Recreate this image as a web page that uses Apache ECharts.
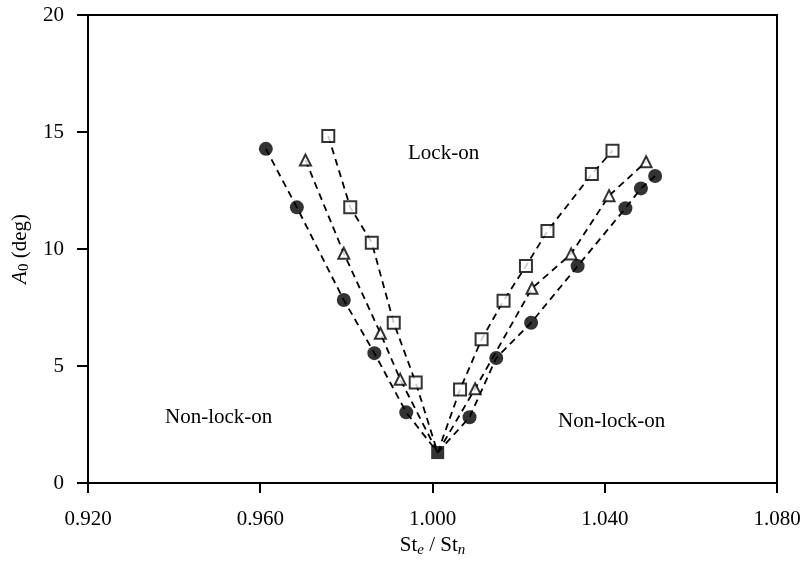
<!DOCTYPE html>
<html>
<head>
<meta charset="utf-8">
<title>Lock-on boundary</title>
<script src="https://cdn.jsdelivr.net/npm/echarts@6/dist/echarts.min.js"></script>
<style>
  html, body { margin: 0; padding: 0; background: #fff; }
  #chart { width: 807px; height: 565px; }
</style>
</head>
<body>
<div id="chart"></div>
<script>
// Axis ticks
const xTicks = [0.920, 0.960, 1.000, 1.040, 1.080];
const yTicks = [0, 5, 10, 15, 20];

// Common vertex where both boundaries meet
const vertex = [1.0012, 1.30];

// Filled circles: lower and upper boundary branches (St_e/St_n, A0 in deg)
const circleLeft = [[0.9613, 14.28], [0.9685, 11.78], [0.9794, 7.82], [0.9865, 5.55], [0.9939, 3.02]];
const circleRight = [[1.0086, 2.81], [1.0148, 5.34], [1.0229, 6.85], [1.0337, 9.27], [1.0448, 11.74], [1.0484, 12.59], [1.0517, 13.12]];

// Open triangles
const triLeft = [[0.9705, 13.80], [0.9794, 9.82], [0.9879, 6.40], [0.9925, 4.43]];
const triRight = [[1.0099, 4.03], [1.0231, 8.32], [1.0322, 9.79], [1.0410, 12.28], [1.0496, 13.73]];

// Open squares
const sqLeft = [[0.9758, 14.83], [0.9809, 11.78], [0.9859, 10.27], [0.9910, 6.85], [0.9961, 4.29]];
const sqRight = [[1.0064, 4.00], [1.0114, 6.14], [1.0165, 7.79], [1.0217, 9.27], [1.0267, 10.77], [1.0370, 13.20], [1.0418, 14.20]];

// Region labels
const regionLabels = ['Lock-on', 'Non-lock-on', 'Non-lock-on'];

const FONT = '"Liberation Serif", "Times New Roman", serif';

function dashed(points) {
  return {
    type: 'line',
    data: points,
    symbol: 'none',
    silent: true,
    z: 1,
    lineStyle: { color: '#000', width: 1.8, type: [7, 5] }
  };
}

function markers(points, symbol, size, filled) {
  return {
    type: 'scatter',
    data: points,
    symbol: symbol,
    symbolSize: size,
    z: 3,
    itemStyle: filled
      ? { color: '#000', borderColor: '#000', borderWidth: 0 }
      : { color: '#fff', borderColor: '#000', borderWidth: 2 }
  };
}

const chart = echarts.init(document.getElementById('chart'), null, { renderer: 'canvas' });

chart.setOption({
  backgroundColor: '#fff',
  animation: false,
  grid: {
    left: 88, right: 30, top: 15, bottom: 82,
    show: true, borderColor: '#000', borderWidth: 2, backgroundColor: 'transparent'
  },
  xAxis: {
    type: 'value',
    min: xTicks[0], max: xTicks[xTicks.length - 1], interval: 0.04,
    axisLine: { show: true, onZero: false, lineStyle: { color: '#000', width: 2 } },
    axisTick: { show: true, inside: false, length: 10, lineStyle: { color: '#000', width: 2 } },
    splitLine: { show: false },
    axisLabel: {
      color: '#000', fontFamily: FONT, fontSize: 21, margin: 26,
      formatter: v => v.toFixed(3)
    },
    name: '{n|St}{s|e}{n| / St}{s|n}',
    nameLocation: 'middle',
    nameGap: 49,
    nameTextStyle: {
      rich: {
        n: { fontFamily: FONT, fontSize: 21, color: '#000' },
        s: { fontFamily: FONT, fontSize: 15, fontStyle: 'italic', color: '#000', padding: [9, 0, 0, 0] }
      }
    }
  },
  yAxis: {
    type: 'value',
    min: yTicks[0], max: yTicks[yTicks.length - 1], interval: 5,
    axisLine: { show: true, onZero: false, lineStyle: { color: '#000', width: 2 } },
    axisTick: { show: true, inside: false, length: 11, lineStyle: { color: '#000', width: 2 } },
    splitLine: { show: false },
    axisLabel: { color: '#000', fontFamily: FONT, fontSize: 21, margin: 24 },
    name: '{a|A}{s|0}{n| (deg)}',
    nameLocation: 'middle',
    nameGap: 56,
    nameRotate: 90,
    nameTextStyle: {
      rich: {
        a: { fontFamily: FONT, fontSize: 21, fontStyle: 'italic', color: '#000' },
        n: { fontFamily: FONT, fontSize: 21, color: '#000' },
        s: { fontFamily: FONT, fontSize: 15, color: '#000', padding: [9, 0, 0, 0] }
      }
    }
  },
  graphic: [
    { type: 'text', left: 408, top: 143, silent: true,
      style: { text: regionLabels[0], font: '21px ' + FONT, fill: '#000' } },
    { type: 'text', left: 165, top: 407, silent: true,
      style: { text: regionLabels[1], font: '21px ' + FONT, fill: '#000' } },
    { type: 'text', left: 558, top: 411, silent: true,
      style: { text: regionLabels[2], font: '21px ' + FONT, fill: '#000' } }
  ],
  series: [
    dashed(circleLeft.concat([vertex])),
    dashed([vertex].concat(circleRight)),
    dashed(triLeft.concat([vertex])),
    dashed([vertex].concat(triRight)),
    dashed(sqLeft.concat([vertex])),
    dashed([vertex].concat(sqRight)),
    markers(triLeft.concat(triRight), 'triangle', 11, false),
    markers(sqLeft.concat(sqRight), 'rect', 12, false),
    markers(circleLeft.concat(circleRight), 'circle', 14, true),
    markers([vertex], 'rect', 13, true)
  ]
});
</script>
</body>
</html>
